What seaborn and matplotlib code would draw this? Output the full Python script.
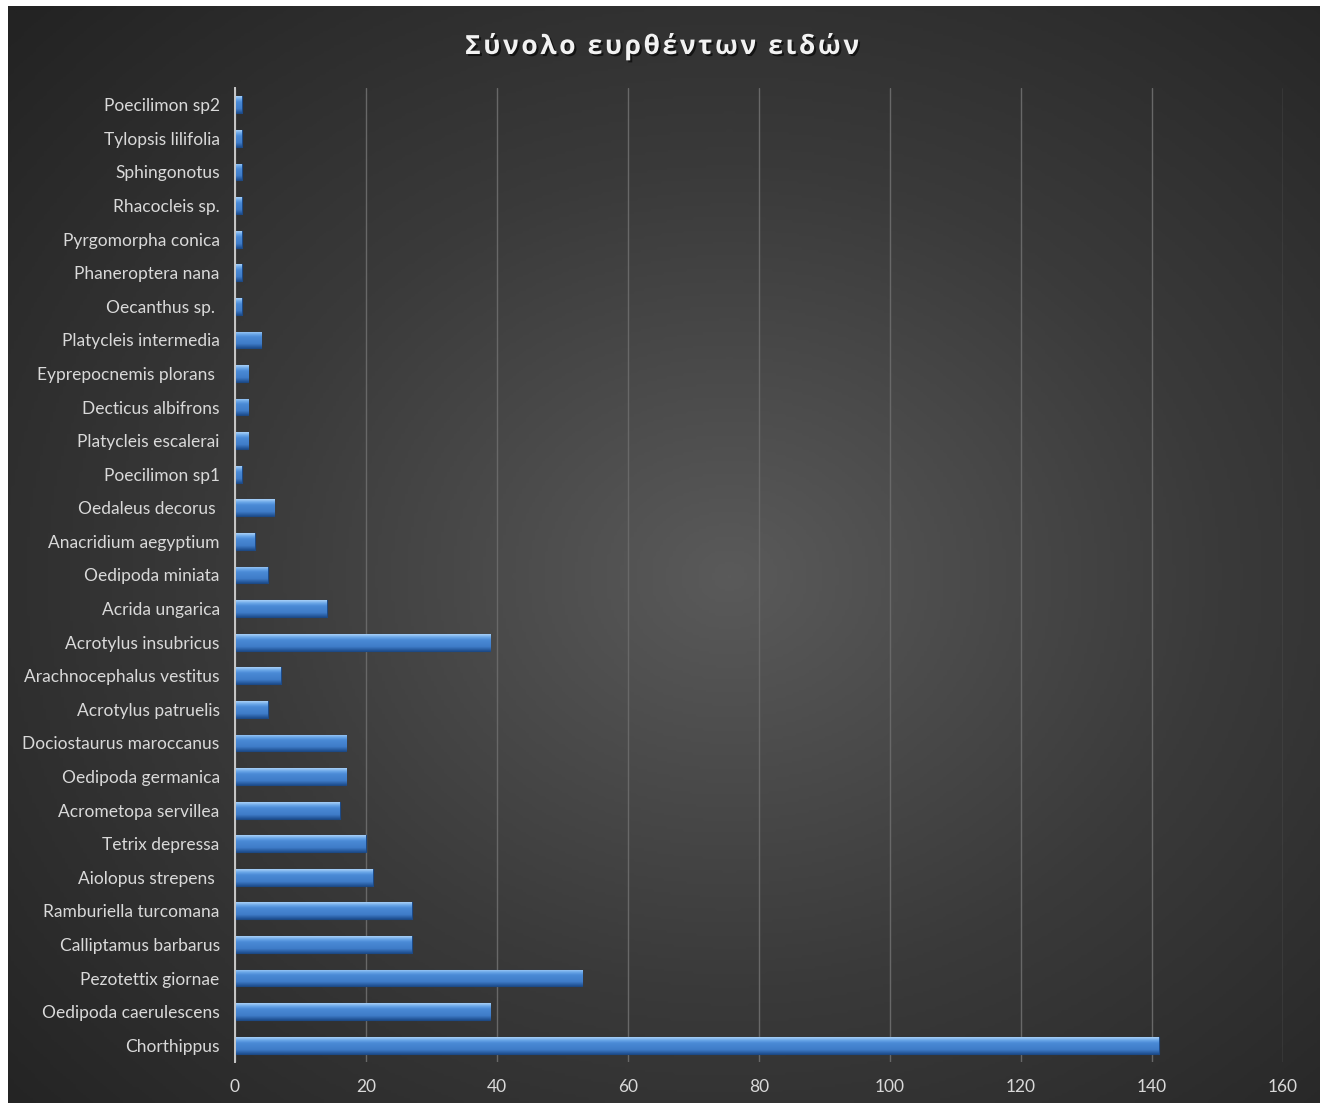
import numpy as np
import pandas as pd
import matplotlib
matplotlib.use("Agg")
import matplotlib.pyplot as plt
import seaborn as sns
from matplotlib.colors import LinearSegmentedColormap
import matplotlib.patheffects as pe

# Species (top to bottom) and number of individuals found
species = ["Poecilimon sp2", "Tylopsis lilifolia", "Sphingonotus", "Rhacocleis sp.",
           "Pyrgomorpha conica", "Phaneroptera nana", "Oecanthus sp. ",
           "Platycleis intermedia", "Eyprepocnemis plorans ", "Decticus albifrons",
           "Platycleis escalerai", "Poecilimon sp1", "Oedaleus decorus ",
           "Anacridium aegyptium", "Oedipoda miniata", "Acrida ungarica",
           "Acrotylus insubricus", "Arachnocephalus vestitus", "Acrotylus patruelis",
           "Dociostaurus maroccanus", "Oedipoda germanica", "Acrometopa servillea",
           "Tetrix depressa", "Aiolopus strepens ", "Ramburiella turcomana",
           "Calliptamus barbarus", "Pezotettix giornae", "Oedipoda caerulescens",
           "Chorthippus"]
counts = [1, 1, 1, 1, 1, 1, 1, 4, 2, 2, 2, 1, 6, 3, 5, 14, 39, 7, 5,
          17, 17, 16, 20, 21, 27, 27, 53, 39, 141]
x_ticks = [0, 20, 40, 60, 80, 100, 120, 140, 160]
title = "Σύνολο ευρθέντων ειδών"

df = pd.DataFrame({"species": species, "count": counts})

sns.set_style("dark")
plt.rcParams['font.family'] = ['Lato', 'DejaVu Sans']

W, H = 1323, 1106
fig = plt.figure(figsize=(W / 100, H / 100), dpi=100, facecolor="white")

# dark radial gradient background
bg = fig.add_axes([8 / W, 3 / H, (W - 11) / W, (H - 9) / H], zorder=-5)
yy, xx = np.mgrid[0:1:400j, 0:1:400j]
r = np.sqrt(((xx - 0.55) / 0.75) ** 2 + ((yy - 0.52) / 0.75) ** 2)
bg_cmap = LinearSegmentedColormap.from_list("bg", ["#5a5a5a", "#3a3a3a", "#232323"])
bg.imshow(np.clip(r, 0, 1), cmap=bg_cmap, aspect="auto", extent=[0, 1, 0, 1], vmin=0, vmax=1)
bg.set_axis_off()

ax = fig.add_axes([235 / W, 44 / H, (1283 - 235) / W, (1062 - 88) / H])
ax.patch.set_alpha(0)

sns.barplot(data=df, x="count", y="species", color="#4a8ad6", width=0.5,
            edgecolor="#1d4a86", linewidth=0.8, ax=ax, zorder=3)

# bevel-like vertical gradient inside each bar
bar_cmap = LinearSegmentedColormap.from_list(
    "bar", [(0, "#a8d0f7"), (0.18, "#6aa6e8"), (0.35, "#4a8ad6"),
            (0.75, "#3f7cc8"), (1, "#1f4f90")])
grad = np.linspace(0, 1, 64).reshape(-1, 1)
for p in ax.patches:
    x0, y0, w, h = p.get_x(), p.get_y(), p.get_width(), p.get_height()
    im = ax.imshow(grad, cmap=bar_cmap, aspect="auto", zorder=3.5,
                   extent=[x0, x0 + w, y0 + h, y0])
    im.set_clip_path(p)

ax.set_xlim(0, 160)
ax.set_ylim(len(species) - 0.5, -0.5)
ax.set_xticks(x_ticks)
ax.set_xlabel("")
ax.set_ylabel("")
ax.grid(axis="x", color="#686868", linewidth=1.0, zorder=0)
ax.grid(axis="y", visible=False)
for s in ["top", "right", "bottom"]:
    ax.spines[s].set_visible(False)
ax.spines["left"].set_color("#c8c8c8")
ax.spines["left"].set_linewidth(1.4)
ax.spines["left"].set_zorder(4)
ax.tick_params(axis="y", length=0, pad=11, labelsize=12.5, labelcolor="#d9d9d9")
ax.tick_params(axis="x", length=0, pad=12, labelsize=12.5, labelcolor="#d9d9d9")

# spaced-out title, like the original
spaced_title = "\u200a".join(title)
fig.text(0.5, 1 - 46 / H, spaced_title, ha="center", va="center", fontsize=19,
         fontweight="bold", color="#f2f2f2", family=["Open Sans", "DejaVu Sans"],
         path_effects=[pe.withSimplePatchShadow(offset=(1.5, -1.5), shadow_rgbFace="black", alpha=0.6)])

fig.savefig("out.png", dpi=100, facecolor="white")
